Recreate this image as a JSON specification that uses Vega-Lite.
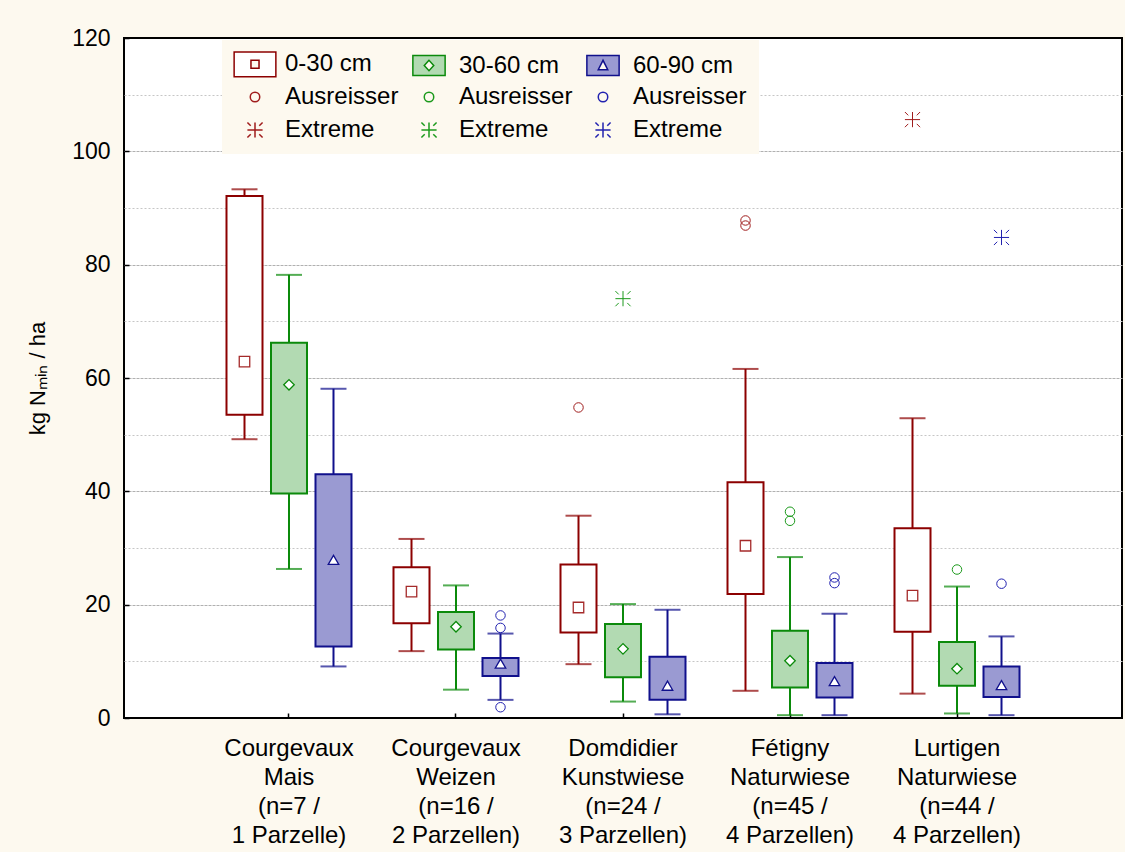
{
  "$schema": "https://vega.github.io/schema/vega-lite/v6.json",
  "width": 998,
  "height": 680,
  "autosize": {"type": "none"},
  "padding": {"left": 124, "top": 38, "right": 3, "bottom": 134},
  "background": "#fdf9ef",
  "config": {
    "font": "Liberation Sans",
    "view": {"fill": "white", "stroke": "black", "strokeWidth": 2},
    "axis": {"labelColor": "black", "labelFont": "Liberation Sans", "titleFont": "Liberation Sans", "titleColor": "black", "titleFontWeight": "normal", "domain": false}
  },
  "datasets": {
    "boxes": [
      {"site": "Courgevaux\nMais\n(n=7 /\n1 Parzelle)", "depth": "0-30 cm", "min": 49.2, "q1": 53.5, "median": 62.9, "q3": 92.1, "max": 93.3},
      {"site": "Courgevaux\nMais\n(n=7 /\n1 Parzelle)", "depth": "30-60 cm", "min": 26.3, "q1": 39.6, "median": 58.8, "q3": 66.2, "max": 78.2},
      {"site": "Courgevaux\nMais\n(n=7 /\n1 Parzelle)", "depth": "60-90 cm", "min": 9.1, "q1": 12.6, "median": 27.9, "q3": 43.0, "max": 58.1},
      {"site": "Courgevaux\nWeizen\n(n=16 /\n2 Parzellen)", "depth": "0-30 cm", "min": 11.8, "q1": 16.7, "median": 22.3, "q3": 26.6, "max": 31.6},
      {"site": "Courgevaux\nWeizen\n(n=16 /\n2 Parzellen)", "depth": "30-60 cm", "min": 5.0, "q1": 12.1, "median": 16.1, "q3": 18.7, "max": 23.4},
      {"site": "Courgevaux\nWeizen\n(n=16 /\n2 Parzellen)", "depth": "60-90 cm", "min": 3.2, "q1": 7.4, "median": 9.6, "q3": 10.6, "max": 14.9},
      {"site": "Domdidier\nKunstwiese\n(n=24 /\n3 Parzellen)", "depth": "0-30 cm", "min": 9.5, "q1": 15.1, "median": 19.5, "q3": 27.1, "max": 35.7},
      {"site": "Domdidier\nKunstwiese\n(n=24 /\n3 Parzellen)", "depth": "30-60 cm", "min": 2.9, "q1": 7.2, "median": 12.2, "q3": 16.6, "max": 20.1},
      {"site": "Domdidier\nKunstwiese\n(n=24 /\n3 Parzellen)", "depth": "60-90 cm", "min": 0.65, "q1": 3.2, "median": 5.7, "q3": 10.8, "max": 19.1},
      {"site": "Fétigny\nNaturwiese\n(n=45 /\n4 Parzellen)", "depth": "0-30 cm", "min": 4.8, "q1": 21.9, "median": 30.4, "q3": 41.6, "max": 61.6},
      {"site": "Fétigny\nNaturwiese\n(n=45 /\n4 Parzellen)", "depth": "30-60 cm", "min": 0.5, "q1": 5.4, "median": 10.1, "q3": 15.4, "max": 28.4},
      {"site": "Fétigny\nNaturwiese\n(n=45 /\n4 Parzellen)", "depth": "60-90 cm", "min": 0.5, "q1": 3.6, "median": 6.5, "q3": 9.7, "max": 18.4},
      {"site": "Lurtigen\nNaturwiese\n(n=44 /\n4 Parzellen)", "depth": "0-30 cm", "min": 4.3, "q1": 15.2, "median": 21.6, "q3": 33.5, "max": 52.9},
      {"site": "Lurtigen\nNaturwiese\n(n=44 /\n4 Parzellen)", "depth": "30-60 cm", "min": 0.8, "q1": 5.7, "median": 8.7, "q3": 13.4, "max": 23.2},
      {"site": "Lurtigen\nNaturwiese\n(n=44 /\n4 Parzellen)", "depth": "60-90 cm", "min": 0.5, "q1": 3.7, "median": 5.8, "q3": 9.1, "max": 14.4}
    ],
    "points": [
      {"site": "Courgevaux\nWeizen\n(n=16 /\n2 Parzellen)", "depth": "60-90 cm", "series": "Ausreisser 60-90 cm", "value": 18.1},
      {"site": "Courgevaux\nWeizen\n(n=16 /\n2 Parzellen)", "depth": "60-90 cm", "series": "Ausreisser 60-90 cm", "value": 15.9},
      {"site": "Courgevaux\nWeizen\n(n=16 /\n2 Parzellen)", "depth": "60-90 cm", "series": "Ausreisser 60-90 cm", "value": 1.9},
      {"site": "Domdidier\nKunstwiese\n(n=24 /\n3 Parzellen)", "depth": "0-30 cm", "series": "Ausreisser 0-30 cm", "value": 54.8},
      {"site": "Domdidier\nKunstwiese\n(n=24 /\n3 Parzellen)", "depth": "30-60 cm", "series": "Extreme 30-60 cm", "value": 74.0},
      {"site": "Fétigny\nNaturwiese\n(n=45 /\n4 Parzellen)", "depth": "0-30 cm", "series": "Ausreisser 0-30 cm", "value": 87.8},
      {"site": "Fétigny\nNaturwiese\n(n=45 /\n4 Parzellen)", "depth": "0-30 cm", "series": "Ausreisser 0-30 cm", "value": 86.9},
      {"site": "Fétigny\nNaturwiese\n(n=45 /\n4 Parzellen)", "depth": "30-60 cm", "series": "Ausreisser 30-60 cm", "value": 36.4},
      {"site": "Fétigny\nNaturwiese\n(n=45 /\n4 Parzellen)", "depth": "30-60 cm", "series": "Ausreisser 30-60 cm", "value": 34.8},
      {"site": "Fétigny\nNaturwiese\n(n=45 /\n4 Parzellen)", "depth": "60-90 cm", "series": "Ausreisser 60-90 cm", "value": 24.8},
      {"site": "Fétigny\nNaturwiese\n(n=45 /\n4 Parzellen)", "depth": "60-90 cm", "series": "Ausreisser 60-90 cm", "value": 23.8},
      {"site": "Lurtigen\nNaturwiese\n(n=44 /\n4 Parzellen)", "depth": "0-30 cm", "series": "Extreme 0-30 cm", "value": 105.6},
      {"site": "Lurtigen\nNaturwiese\n(n=44 /\n4 Parzellen)", "depth": "30-60 cm", "series": "Ausreisser 30-60 cm", "value": 26.2},
      {"site": "Lurtigen\nNaturwiese\n(n=44 /\n4 Parzellen)", "depth": "60-90 cm", "series": "Ausreisser 60-90 cm", "value": 23.7},
      {"site": "Lurtigen\nNaturwiese\n(n=44 /\n4 Parzellen)", "depth": "60-90 cm", "series": "Extreme 60-90 cm", "value": 84.8}
    ]
  },
  "encoding": {
    "x": {
      "field": "site", "type": "nominal", "title": null,
      "scale": {
        "domain": ["Courgevaux\nMais\n(n=7 /\n1 Parzelle)", "Courgevaux\nWeizen\n(n=16 /\n2 Parzellen)", "Domdidier\nKunstwiese\n(n=24 /\n3 Parzellen)", "Fétigny\nNaturwiese\n(n=45 /\n4 Parzellen)", "Lurtigen\nNaturwiese\n(n=44 /\n4 Parzellen)"],
        "paddingInner": 0, "paddingOuter": 0.488, "align": 0.5
      },
      "axis": {"labelExpr": "split(datum.label, '\\n')", "labelAngle": 0, "labelFontSize": 24, "labelLineHeight": 29, "labelPadding": 23, "labelLimit": 400, "ticks": true, "tickSize": -5, "tickColor": "black", "tickWidth": 1.5, "grid": false, "domain": false}
    },
    "xOffset": {"field": "depth", "type": "nominal", "scale": {"domain": ["0-30 cm", "30-60 cm", "60-90 cm"], "paddingInner": 0.191, "paddingOuter": 0.472}}
  },
  "layer": [
    {
      "data": {"name": "boxes"},
      "mark": {"type": "rule", "strokeWidth": 2},
      "encoding": {
        "y": {
          "field": "min", "type": "quantitative", "title": "kg Nₘᵢₙ / ha",
          "scale": {"domain": [0, 120], "nice": false, "zero": false},
          "axis": {
            "values": [0, 10, 20, 30, 40, 50, 60, 70, 80, 90, 100, 110, 120],
            "labelExpr": "datum.value % 20 == 0 ? datum.label : ''",
            "labelFontSize": 23, "labelPadding": 19, "labelOverlap": false,
            "grid": true,
            "gridColor": {"condition": {"test": "datum.value % 20 == 0", "value": "#b0b0b0"}, "value": "#c6c6c6"},
            "gridDash": {"condition": {"test": "datum.value % 20 == 0", "value": [3, 1]}, "value": [2, 2]},
            "gridOpacity": {"condition": {"test": "datum.value == 0 || datum.value == 120", "value": 0}, "value": 1},
            "gridWidth": 1,
            "ticks": true, "tickSize": -5, "tickColor": "black", "tickWidth": 1.5,
            "tickOpacity": {"condition": {"test": "datum.value % 20 == 0", "value": 1}, "value": 0},
            "domain": false,
            "titleFontSize": 22, "titleAngle": -90, "titleX": -87, "titleY": 340, "titleAlign": "center", "titleBaseline": "middle"
          }
        },
        "y2": {"field": "max"},
        "color": {"field": "depth", "type": "nominal", "scale": {"domain": ["0-30 cm", "30-60 cm", "60-90 cm"], "range": ["#8c0000", "#0b8a0b", "#10108c"]}, "legend": null}
      }
    },
    {
      "data": {"name": "boxes"},
      "mark": {"type": "tick", "orient": "horizontal", "size": 26, "thickness": 2},
      "encoding": {
        "y": {"field": "min", "type": "quantitative", "title": "kg Nₘᵢₙ / ha", "scale": {"domain": [0, 120], "nice": false, "zero": false}},
        "color": {"field": "depth", "type": "nominal", "scale": {"domain": ["0-30 cm", "30-60 cm", "60-90 cm"], "range": ["#8c0000", "#0b8a0b", "#10108c"]}, "legend": null}
      }
    },
    {
      "data": {"name": "boxes"},
      "mark": {"type": "tick", "orient": "horizontal", "size": 26, "thickness": 2},
      "encoding": {
        "y": {"field": "max", "type": "quantitative", "title": "kg Nₘᵢₙ / ha", "scale": {"domain": [0, 120], "nice": false, "zero": false}},
        "color": {"field": "depth", "type": "nominal", "scale": {"domain": ["0-30 cm", "30-60 cm", "60-90 cm"], "range": ["#8c0000", "#0b8a0b", "#10108c"]}, "legend": null}
      }
    },
    {
      "data": {"name": "boxes"},
      "mark": {"type": "bar", "strokeWidth": 2, "strokeJoin": "miter"},
      "encoding": {
        "y": {"field": "q1", "type": "quantitative", "title": "kg Nₘᵢₙ / ha", "scale": {"domain": [0, 120], "nice": false, "zero": false}},
        "y2": {"field": "q3"},
        "stroke": {"field": "depth", "type": "nominal", "scale": {"domain": ["0-30 cm", "30-60 cm", "60-90 cm"], "range": ["#8c0000", "#0b8a0b", "#10108c"]}, "legend": null},
        "fill": {"field": "depth", "type": "nominal", "scale": {"domain": ["0-30 cm", "30-60 cm", "60-90 cm"], "range": ["#ffffff", "#b2dab2", "#9a9ad2"]}, "legend": null}
      }
    },
    {
      "data": {"name": "boxes"},
      "mark": {"type": "point", "size": 110, "strokeWidth": 1.3, "filled": true, "fill": "white", "opacity": 1},
      "encoding": {
        "y": {"field": "median", "type": "quantitative", "title": "kg Nₘᵢₙ / ha", "scale": {"domain": [0, 120], "nice": false, "zero": false}},
        "stroke": {"field": "depth", "type": "nominal", "scale": {"domain": ["0-30 cm", "30-60 cm", "60-90 cm"], "range": ["#a52a2a", "#0b8a0b", "#10108c"]}, "legend": null},
        "shape": {"field": "depth", "type": "nominal", "scale": {"domain": ["0-30 cm", "30-60 cm", "60-90 cm"], "range": ["square", "diamond", "triangle-up"]}, "legend": null}
      }
    },
    {
      "data": {"name": "points"},
      "mark": {"type": "point", "size": 90, "strokeWidth": 1, "opacity": 1},
      "encoding": {
        "y": {"field": "value", "type": "quantitative", "title": "kg Nₘᵢₙ / ha", "scale": {"domain": [0, 120], "nice": false, "zero": false}},
        "stroke": {
          "field": "series", "type": "nominal",
          "scale": {
            "domain": ["Box 0-30 cm", "Ausreisser 0-30 cm", "Extreme 0-30 cm", "Box 30-60 cm", "Ausreisser 30-60 cm", "Extreme 30-60 cm", "Box 60-90 cm", "Ausreisser 60-90 cm", "Extreme 60-90 cm"],
            "range": ["#8c0000", "#a01c1c", "#a01c1c", "#0b8a0b", "#1c9a1c", "#1c9a1c", "#10108c", "#2222b0", "#2222b0"]
          },
          "legend": {
            "title": null, "orient": "none", "legendX": 98, "legendY": 2, "columns": 3, "gridAlign": "all",
            "fillColor": "#fdf9ef", "padding": 12, "labelFontSize": 24, "labelFont": "Liberation Sans", "labelColor": "black", "labelLimit": 300,
            "labelExpr": "indexof(datum.label, 'Box ') == 0 ? substring(datum.label, 4) : substring(datum.label, 0, indexof(datum.label, ' '))",
            "symbolOffset": 9, "labelOffset": 18, "columnPadding": 9, "rowPadding": 5, "symbolStrokeWidth": 1.5, "symbolSize": 90
          }
        },
        "fill": {
          "field": "series", "type": "nominal",
          "scale": {
            "domain": ["Box 0-30 cm", "Ausreisser 0-30 cm", "Extreme 0-30 cm", "Box 30-60 cm", "Ausreisser 30-60 cm", "Extreme 30-60 cm", "Box 60-90 cm", "Ausreisser 60-90 cm", "Extreme 60-90 cm"],
            "range": ["#ffffff", "transparent", "transparent", "#b2dab2", "transparent", "transparent", "#9a9ad2", "transparent", "transparent"]
          },
          "legend": {
            "title": null, "orient": "none", "legendX": 98, "legendY": 2, "columns": 3, "gridAlign": "all",
            "fillColor": "#fdf9ef", "padding": 12, "labelFontSize": 24, "labelFont": "Liberation Sans", "labelColor": "black", "labelLimit": 300,
            "labelExpr": "indexof(datum.label, 'Box ') == 0 ? substring(datum.label, 4) : substring(datum.label, 0, indexof(datum.label, ' '))",
            "symbolOffset": 9, "labelOffset": 18, "columnPadding": 9, "rowPadding": 5, "symbolStrokeWidth": 1.5, "symbolSize": 90
          }
        },
        "shape": {
          "field": "series", "type": "nominal",
          "scale": {
            "domain": ["Box 0-30 cm", "Ausreisser 0-30 cm", "Extreme 0-30 cm", "Box 30-60 cm", "Ausreisser 30-60 cm", "Extreme 30-60 cm", "Box 60-90 cm", "Ausreisser 60-90 cm", "Extreme 60-90 cm"],
            "range": [
              "M-4.4,-2.6H4.4V2.6H-4.4Z M-0.85,-0.85V0.85H0.85V-0.85Z",
              "circle",
              "M-1.6,0H1.6M0,-1.6V1.6M-1.6,-1.6L-0.9,-0.9M1.6,-1.6L0.9,-0.9M-1.6,1.6L-0.9,0.9M1.6,1.6L0.9,0.9",
              "M-3.4,-2.1H3.4V2.1H-3.4Z M0,-1.1L-1,0L0,1.1L1,0Z",
              "circle",
              "M-1.6,0H1.6M0,-1.6V1.6M-1.6,-1.6L-0.9,-0.9M1.6,-1.6L0.9,-0.9M-1.6,1.6L-0.9,0.9M1.6,1.6L0.9,0.9",
              "M-3.4,-2.1H3.4V2.1H-3.4Z M0,-1.1L-1,0.9H1Z",
              "circle",
              "M-1.6,0H1.6M0,-1.6V1.6M-1.6,-1.6L-0.9,-0.9M1.6,-1.6L0.9,-0.9M-1.6,1.6L-0.9,0.9M1.6,1.6L0.9,0.9"
            ]
          },
          "legend": {
            "title": null, "orient": "none", "legendX": 98, "legendY": 2, "columns": 3, "gridAlign": "all",
            "fillColor": "#fdf9ef", "padding": 12, "labelFontSize": 24, "labelFont": "Liberation Sans", "labelColor": "black", "labelLimit": 300,
            "labelExpr": "indexof(datum.label, 'Box ') == 0 ? substring(datum.label, 4) : substring(datum.label, 0, indexof(datum.label, ' '))",
            "symbolOffset": 9, "labelOffset": 18, "columnPadding": 9, "rowPadding": 5, "symbolStrokeWidth": 1.5, "symbolSize": 90
          }
        }
      }
    }
  ],
  "resolve": {"scale": {"stroke": "independent", "fill": "independent", "shape": "independent"}}
}
